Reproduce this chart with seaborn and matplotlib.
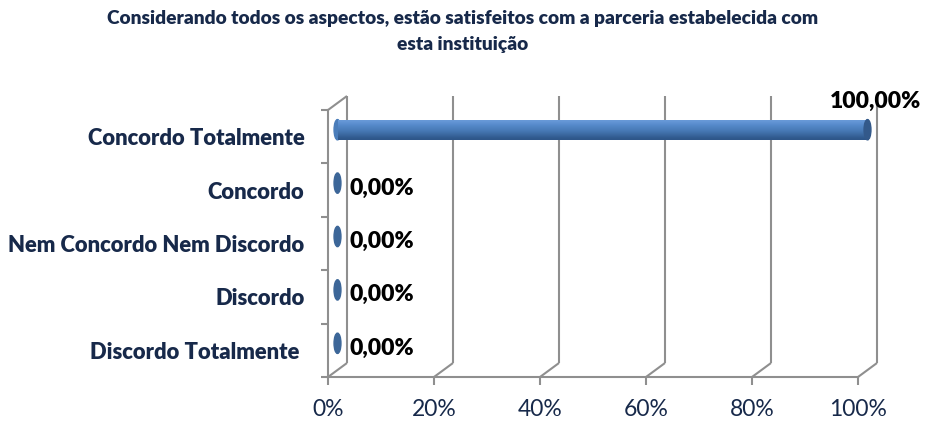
import numpy as np
import pandas as pd
import matplotlib
matplotlib.use("Agg")
import matplotlib.pyplot as plt
import matplotlib.transforms as mtransforms
from matplotlib.patches import Ellipse
from matplotlib.ticker import FuncFormatter
import seaborn as sns

# Dados do gráfico
categorias = ["Concordo Totalmente", "Concordo", "Nem Concordo Nem Discordo",
              "Discordo", "Discordo Totalmente "]
valores = [100.0, 0.0, 0.0, 0.0, 0.0]
ticks_x = [0, 20, 40, 60, 80, 100]
titulo = ("Considerando todos os aspectos, estão satisfeitos com a parceria estabelecida com\n"
          "esta instituição")

# Cores
COR_TEXTO = "#17294A"
COR_GRADE = "#8F8F8F"
COR_BARRA = "#4F81BD"
COR_TAMPA = "#33598A"

sns.set_theme(style="white")
plt.rcParams["font.family"] = ["Lato", "DejaVu Sans"]

fig = plt.figure(figsize=(9.25, 4.21), dpi=100)
W, H = 925, 421
# plano frontal do gráfico (em pixels): x 328..858, y 110..377
ax = fig.add_axes([328 / W, (H - 377) / H, 530 / W, 267 / H])

df = pd.DataFrame({"categoria": categorias, "valor": valores})
sns.barplot(data=df, y="categoria", x="valor", orient="h", color=COR_BARRA,
            width=0.38, ax=ax, saturation=1, edgecolor="none", linewidth=0)

ax.set_xlim(0, 100)
ax.set_ylim(4.5, -0.5)

# profundidade 3D (pixels) -> unidades de dados
prof_x, prof_y = 19, 14
dx = prof_x / 530 * 100
dy = -prof_y / (267 / 5)

# barras deslocadas para o meio da profundidade
meio = ax.transData + mtransforms.ScaledTranslation(prof_x / 2 / 100, prof_y / 2 / 100,
                                                    fig.dpi_scale_trans)

# gradiente vertical do cilindro
grad = np.array([0.0, 0.25, 0.45, 0.6, 0.7, 0.8, 0.9, 1.0])
cmap = matplotlib.colors.LinearSegmentedColormap.from_list(
    "cil", ["#6A9BD8", "#5A8ED0", "#4A7DBA", "#2E5689"])
for patch, v in zip(ax.patches, valores):
    patch.set_transform(meio)
    patch.set_clip_on(False)
    x0, y0 = patch.get_x(), patch.get_y()
    w, h = patch.get_width(), patch.get_height()
    yc = y0 + h / 2
    if w > 0:
        ax.add_patch(Ellipse((x0, yc), 1.3, h, transform=meio, color="#4A7DBA",
                             zorder=patch.get_zorder() - 0.1, clip_on=False))
        im = ax.imshow(grad.reshape(-1, 1), extent=[x0, x0 + w, y0 + h, y0], aspect="auto",
                       cmap=cmap, transform=meio, zorder=patch.get_zorder() + 0.1,
                       interpolation="bicubic")
        im.set_clip_path(patch)
        ax.add_patch(Ellipse((x0 + w, yc), 1.3, h, transform=meio, color=COR_TAMPA,
                             zorder=patch.get_zorder() + 0.2, clip_on=False))
    else:
        ax.add_patch(Ellipse((x0, yc), 1.3, h, transform=meio, color="#3C6698",
                             zorder=patch.get_zorder() + 0.2, clip_on=False))

ax.set_xlim(0, 100)
ax.set_ylim(4.5, -0.5)

# paredes / grade 3D
kw = dict(color=COR_GRADE, lw=1.5, clip_on=False, zorder=1, solid_capstyle="butt")
topo, base = -0.5, 4.5
ax.plot([0, dx], [topo, topo + dy], **kw)
for t in ticks_x:
    ax.plot([t, t + dx], [base, base + dy], **kw)
    ax.plot([t + dx, t + dx], [base + dy, topo + dy], **kw)

for lado in ["top", "right"]:
    ax.spines[lado].set_visible(False)
for lado in ["left", "bottom"]:
    ax.spines[lado].set_visible(True)
    ax.spines[lado].set_color(COR_GRADE)
    ax.spines[lado].set_linewidth(1.5)

# eixo x
ax.set_xticks(ticks_x)
ax.xaxis.set_major_formatter(FuncFormatter(lambda x, p: f"{x:.0f}%"))
ax.tick_params(axis="x", bottom=True, length=6, width=1.5, color=COR_GRADE,
               labelsize=16.5, labelcolor=COR_TEXTO, pad=10)

# eixo y
ax.set_yticks(np.arange(-0.5, 5.0, 1.0), minor=True)
ax.tick_params(axis="y", which="minor", left=True, length=5, width=1.5, color=COR_GRADE)
ax.tick_params(axis="y", which="major", left=False, length=0, pad=17,
               labelsize=15.8, labelcolor=COR_TEXTO)
for lab in ax.get_yticklabels():
    lab.set_fontweight("heavy")
ax.set_xlabel("")
ax.set_ylabel("")

# rótulos de valor
for i, v in enumerate(valores):
    txt = f"{v:.2f}".replace(".", ",") + "%"
    if v >= 100:
        ax.annotate(txt, (v, i), xytext=(63, 35), textcoords="offset pixels",
                    ha="right", va="center", fontsize=16.5, fontweight="heavy",
                    color="black", annotation_clip=False)
    else:
        ax.annotate(txt, (v, i), xytext=(22, 2), textcoords="offset pixels",
                    ha="left", va="center", fontsize=16.5, fontweight="heavy",
                    color="black", annotation_clip=False)

fig.text(463 / W, 1 - 10 / H, titulo, ha="center", va="top", fontsize=13.8,
         fontweight="heavy", color=COR_TEXTO, linespacing=1.65)

fig.savefig("out.png", dpi=100)
